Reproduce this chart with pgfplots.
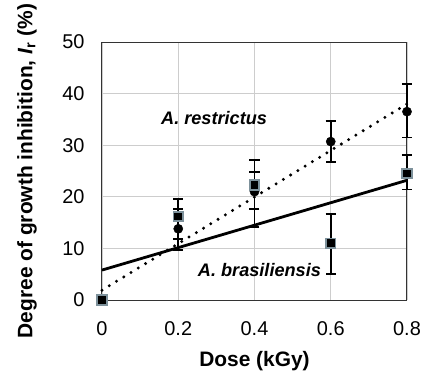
\documentclass[border=0pt]{standalone}
\usepackage{pgfplots}
\pgfplotsset{compat=1.18}
\usepackage{fontspec}
\setmainfont{Liberation Sans}
\definecolor{sqedge}{RGB}{125,145,155}
\definecolor{gridc}{RGB}{205,205,205}
\begin{document}
\begin{tikzpicture}
\begin{axis}[
  scale only axis,
  width=305bp, height=258bp,
  xmin=0, xmax=0.8, ymin=0, ymax=50,
  xtick={0,0.2,0.4,0.6,0.8},
  xticklabels={0,0.2,0.4,0.6,0.8},
  ytick={0,10,20,30,40,50},
  grid=major,
  major grid style={gridc, line width=0.7bp},
  axis line style={black!80, line width=1bp},
  tick style={draw=none},
  /pgf/number format/assume math mode=true,
  ticklabel style={font=\fontsize{20}{22}\selectfont},
  yticklabel style={xshift=-14bp},
  xticklabel style={yshift=-18bp},
  clip=false,
]
\coordinate (SW) at (rel axis cs:0,0);
\coordinate (NE) at (rel axis cs:1,1);
% trend lines
\addplot[black, line width=3.3bp, dash pattern=on 0pt off 8.5bp, line cap=round] coordinates {(0,1.9) (0.8,38.0)};
\addplot[black, line width=2.8bp] coordinates {(0,5.8) (0.8,23.2)};
% A. restrictus (circles)
\addplot[only marks, mark=*, mark size=4.6bp, black,
  error bars/.cd, y dir=both, y explicit,
  error bar style={line width=1.8bp, black}, error mark options={line width=1.8bp, mark size=5bp, rotate=90}]
  coordinates {
  (0,0) +- (0,0)
  (0.2,13.8) -= (0,4.1) += (0,3.9)
  (0.4,21.0) -= (0,6.8) += (0,3.8)
  (0.6,30.7) -= (0,4.0) += (0,4.0)
  (0.8,36.5) -= (0,5.0) += (0,5.3)
  };
% A. brasiliensis (squares)
\addplot[only marks, mark=square*, mark size=4.8bp, mark options={fill=black, draw=sqedge, line width=1.8bp},
  error bars/.cd, y dir=both, y explicit,
  error bar style={line width=1.8bp, black}, error mark options={line width=1.8bp, mark size=5bp, rotate=90}]
  coordinates {
  (0,0) +- (0,0)
  (0.2,16.2) -= (0,4.4) += (0,3.3)
  (0.4,22.3) -= (0,4.7) += (0,4.8)
  (0.6,11.0) -= (0,6.0) += (0,5.6)
  (0.8,24.5) -= (0,3.1) += (0,3.6)
  };
\node[font=\fontsize{18.2}{20}\selectfont\bfseries\itshape] at (axis cs:0.294,35.2) {A. restrictus};
\node[font=\fontsize{18.2}{20}\selectfont\bfseries\itshape] at (axis cs:0.413,5.8) {A. brasiliensis};
\node[font=\fontsize{21}{23}\selectfont\bfseries] at ([yshift=-61bp]rel axis cs:0.5,0) {Dose (kGy)};
\node[font=\fontsize{21}{23}\selectfont\bfseries, rotate=90] at ([xshift=-75bp]rel axis cs:0,0.5) {Degree of growth inhibition, \textit{I}\textsubscript{r} (\%)};
\end{axis}
\pgfresetboundingbox
\path ([xshift=-102bp,yshift=-73bp]SW) rectangle ([xshift=16bp,yshift=42bp]NE);
\end{tikzpicture}
\end{document}
